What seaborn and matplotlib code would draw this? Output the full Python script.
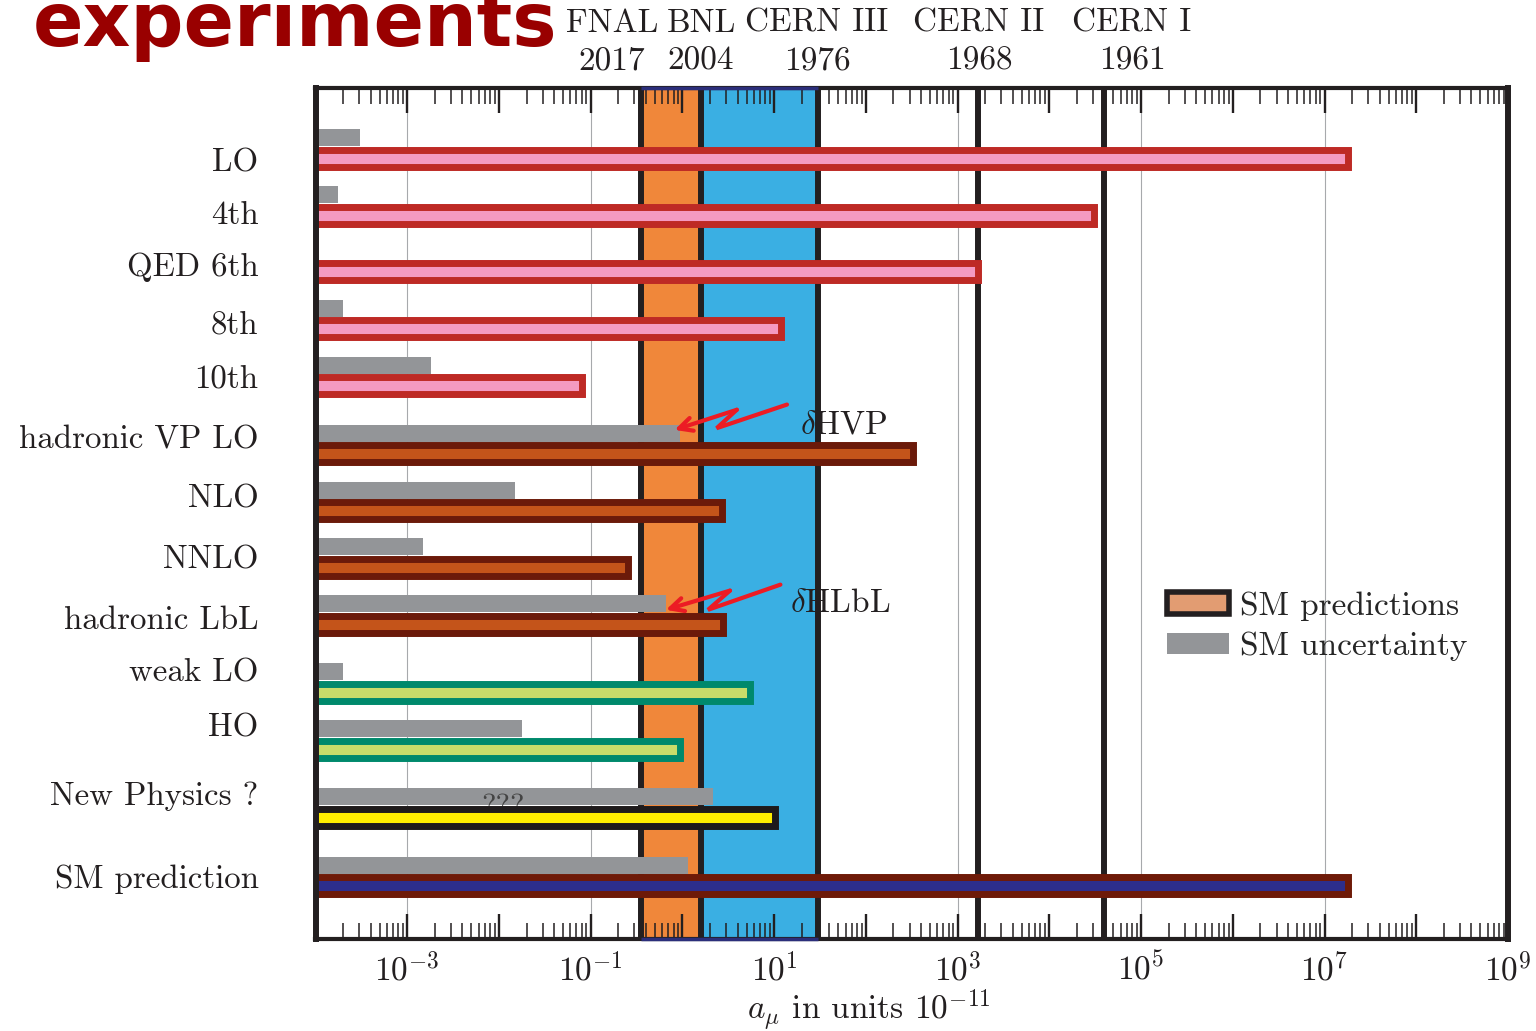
import numpy as np
import pandas as pd
import matplotlib
matplotlib.use("Agg")
import matplotlib.pyplot as plt
import matplotlib.transforms as mtransforms
from matplotlib.patches import Patch
from matplotlib.ticker import LogLocator, FuncFormatter, NullFormatter
import seaborn as sns

# Contributions to the muon anomaly a_mu, in units of 1e-11
terms = ["LO", "4th", "QED 6th", "8th", "10th",
         "hadronic VP LO", "NLO", "NNLO", "hadronic LbL",
         "weak LO", "HO", "New Physics ?", "SM prediction"]
groups = ["qed", "qed", "qed", "qed", "qed",
          "had", "had", "had", "had",
          "weak", "weak", "np", "sm"]
contribution = [1.8e7, 3.1e4, 1650, 12, 0.081,
                330, 2.67, 0.258, 2.8,
                5.5, 0.95, 10.1, 1.8e7]
uncertainty = [3.05e-4, 1.77e-4, np.nan, 2.0e-4, 1.8e-3,
               0.94, 0.015, 1.5e-3, 0.66,
               2.0e-4, 0.0178, 2.15, 1.15]

# Experimental precision reached by each g-2 experiment
experiments = ["FNAL", "BNL", "CERN III", "CERN II", "CERN I"]
exp_years = ["2017", "2004", "1976", "1968", "1961"]
exp_precision = [0.35, 1.6, 30, 1670, 3.95e4]

# ---- layout -------------------------------------------------------------
group_index = np.array([0, 0, 0, 0, 0, 1, 1, 1, 1, 2, 2, 3, 4])
row_pos = np.arange(len(terms)) + 0.2 * group_index
bar_offset = 0.18
label_pos = [0.21, 1.14, 2.05, 3.06, 4.02, 5.09, 6.13, 7.19, 8.26,
             9.19, 10.16, 11.35, 12.81]
top_label_px = [612, 701, 817, 979, 1132]
W, H = 1536, 1031

face = {"qed": "#F49AC1", "had": "#C4541A", "weak": "#C8DC6A",
        "np": "#FFED00", "sm": "#2D2E8C"}
edge = {"qed": "#BE2A25", "had": "#6B1A0A", "weak": "#00896C",
        "np": "#1E1A1B", "sm": "#6E1A08"}
gray = "#939598"
ink = "#231F20"

sns.set_theme(style="white")
plt.rcParams["font.family"] = ["cmr10", "DejaVu Serif"]
plt.rcParams["mathtext.fontset"] = "cm"
plt.rcParams["axes.unicode_minus"] = True

fig = plt.figure(figsize=(W / 100, H / 100), dpi=100)
ax = fig.add_axes([315.5 / W, 1 - 939 / H, (1508 - 315.5) / W, (939 - 88) / H])
ax.set_xscale("log")

# light vertical guides every second decade
for g in [1e-3, 1e-1, 1e1, 1e3, 1e5, 1e7]:
    ax.axvline(g, color="#A7A9AC", lw=0.8, zorder=0.4)

# experimental precision bands and markers
ax.axvspan(exp_precision[0], exp_precision[1], color="#F0873A", lw=0, zorder=0.6)
ax.axvspan(exp_precision[1], exp_precision[2], color="#3AAFE3", lw=0, zorder=0.6)
band_trans = mtransforms.blended_transform_factory(ax.transData, ax.transAxes)
for yb in (0, 1):
    ax.plot([exp_precision[0], exp_precision[2]], [yb, yb], transform=band_trans,
            color="#2B2E7A", lw=2.5, zorder=5, clip_on=False,
            solid_capstyle="butt")
for v in exp_precision:
    ax.axvline(v, color=ink, lw=4.3, zorder=1.5)

# uncertainty bars
unc_df = pd.DataFrame({"term": terms, "value": uncertainty,
                       "y": row_pos - bar_offset}).dropna()
sns.barplot(data=unc_df, x="value", y="y", orient="h", native_scale=True,
            color=gray, saturation=1, width=0.3, errorbar=None, ax=ax)

# contribution bars
main_df = pd.DataFrame({"term": terms, "value": contribution,
                        "y": row_pos + bar_offset})
sns.barplot(data=main_df, x="value", y="y", hue="term", hue_order=terms,
            palette=[face[g] for g in groups], orient="h", native_scale=True,
            dodge=False, saturation=1, width=0.3, errorbar=None,
            legend=False, ax=ax)

for bar in ax.containers[0]:
    bar.set_zorder(2)
    bar.set_linewidth(0)
for cont, g in zip(ax.containers[1:], groups):
    for bar in cont:
        bar.set_edgecolor(edge[g])
        bar.set_linewidth(5)
        bar.set_zorder(3)

ax.set_xlim(1e-4, 1e9)
ax.set_ylim(13.92, -1.056)

# x axis: decade ticks top and bottom, labels every second decade
ax.xaxis.set_major_locator(LogLocator(base=10, numticks=40))
ax.xaxis.set_minor_locator(LogLocator(base=10, subs=np.arange(2, 10), numticks=400))
ax.xaxis.set_minor_formatter(NullFormatter())


def decade_label(v, pos):
    e = int(round(np.log10(v)))
    return rf"$10^{{{e}}}$" if e % 2 else ""


ax.xaxis.set_major_formatter(FuncFormatter(decade_label))
ax.tick_params(axis="x", which="both", direction="in", top=True, bottom=True,
               colors=ink, labelsize=24, pad=9)
ax.tick_params(axis="x", which="major", length=18, width=1.7)
ax.tick_params(axis="x", which="minor", length=11.5, width=1.1)

ax.set_yticks(label_pos, terms)
ax.tick_params(axis="y", length=0, pad=41, labelsize=23.7, colors=ink)
ax.set_ylabel("")
ax.set_xlabel(r"$a_\mu$ in units $10^{-11}$", fontsize=24, color=ink)
ax.xaxis.set_label_coords((869 - 315.5) / (1508 - 315.5), -(988 - 939) / (939 - 88))

ax.set_axisbelow(False)
for side, sp in ax.spines.items():
    sp.set_visible(True)
    sp.set_color(ink)
    sp.set_linewidth(4.3 if side in ("left", "right") else 3)
    sp.set_zorder(4)

# experiment names and years above the frame
for name, year, xp in zip(experiments, exp_years, top_label_px):
    fig.text(xp / W, 1 - 32 / H, name, ha="center", va="baseline", fontsize=24, color=ink)
    fig.text(xp / W, 1 - 70 / H, year, ha="center", va="baseline", fontsize=24, color=ink)

# arrows pointing at the hadronic uncertainties
red = "#EC1C24"
zigzags = {
    r"$\delta$HVP": ([13.8, 2.36, 3.92, 0.82], [4.515, 4.931, 4.606, 4.961], (19.1, 4.866)),
    r"$\delta$HLbL": ([11.7, 1.90, 3.30, 0.66], [7.684, 8.127, 7.789, 8.127], (14.9, 8.012)),
}
for text, (zx, zy, tpos) in zigzags.items():
    ax.plot(zx[:3], zy[:3], color=red, lw=3, solid_capstyle="round",
            solid_joinstyle="miter", zorder=6)
    ax.annotate("", xy=(zx[3], zy[3]), xytext=(zx[2], zy[2]),
                arrowprops=dict(arrowstyle="->", color=red, lw=3,
                                mutation_scale=24, shrinkA=0, shrinkB=0),
                zorder=6)
    ax.text(tpos[0], tpos[1], text, ha="left", va="center", fontsize=24,
            color=ink, zorder=6)

ax.text(0.011, row_pos[11], "???", ha="center", va="center", fontsize=22,
        color="#444444", zorder=2.5)

handles = [Patch(facecolor="#E29C72", edgecolor=ink, linewidth=4),
           Patch(facecolor=gray, edgecolor="none")]
ax.legend(handles, ["SM predictions", "SM uncertainty"], loc="center left",
          bbox_to_anchor=((1167 - 315.5) / (1508 - 315.5), 1 - (626 - 88) / (939 - 88)),
          frameon=False, fontsize=24, handlelength=1.85, handleheight=0.6,
          handletextpad=0.35, labelspacing=0.32, borderpad=0, borderaxespad=0)

fig.text(33 / W, 1 - 46 / H, "experiments", ha="left", va="baseline",
         fontsize=53.5, fontweight="bold", color="#990000", family="DejaVu Sans")

fig.savefig("out.png", dpi=100)
